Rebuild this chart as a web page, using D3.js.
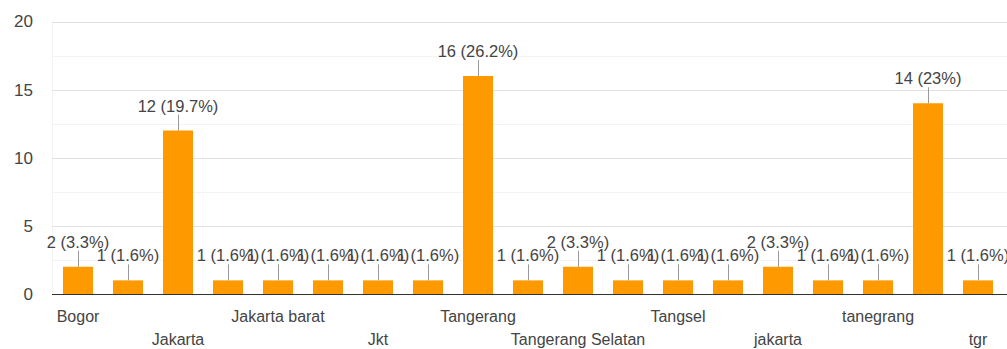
<!DOCTYPE html>
<html>
<head>
<meta charset="utf-8">
<script src="https://cdn.jsdelivr.net/npm/d3@7"></script>
<style>
  html, body { margin: 0; padding: 0; background: #fff; }
  svg { display: block; font-family: "Liberation Sans", Arial, sans-serif; }
</style>
</head>
<body>
<svg id="chart" width="1007" height="349"></svg>
<script>
// Responses per city; every other category name is shown on the axis
const categories = ["Bogor", "", "Jakarta", "", "Jakarta barat", "", "Jkt", "",
  "Tangerang", "", "Tangerang Selatan", "", "Tangsel", "", "jakarta", "",
  "tanegrang", "", "tgr"];
const counts = [2, 1, 12, 1, 1, 1, 1, 1, 16, 1, 2, 1, 1, 1, 2, 1, 1, 14, 1];
const yTicks = [0, 5, 10, 15, 20];

const total = d3.sum(counts);
const pct = v => {
  const p = Math.round(v / total * 1000) / 10;
  return `${v} (${p}%)`;
};

const svg = d3.select("#chart");
const idx = counts.map((_, i) => i);

const x = d3.scaleBand().domain(idx).range([53, 1003])
  .paddingInner(0.4).paddingOuter(0.2);
const y = d3.scaleLinear().domain([0, 20]).range([294, 21.5]);

// faint left edge of the plot area
svg.append("line")
  .attr("x1", 52.5).attr("x2", 52.5)
  .attr("y1", y(20)).attr("y2", y(0))
  .attr("stroke", "#f4f4f4");

// minor gridlines
svg.append("g").selectAll("line")
  .data(d3.range(2.5, 20, 5))
  .join("line")
  .attr("x1", 52).attr("x2", 1007)
  .attr("y1", d => Math.round(y(d)) + 0.5).attr("y2", d => Math.round(y(d)) + 0.5)
  .attr("stroke", "#f3f3f3");

// major gridlines
svg.append("g").selectAll("line")
  .data(yTicks.filter(d => d > 0))
  .join("line")
  .attr("x1", 52).attr("x2", 1007)
  .attr("y1", d => Math.round(y(d)) + 0.5).attr("y2", d => Math.round(y(d)) + 0.5)
  .attr("stroke", "#e2e2e2");

// y axis
const yAxis = d3.axisLeft(y).tickValues(yTicks).tickSize(0).tickPadding(0);
const gy = svg.append("g").attr("transform", "translate(33,0)").call(yAxis);
gy.select(".domain").remove();
gy.selectAll("text")
  .attr("fill", "#444")
  .style("font-size", "17px")
  .style("font-family", "'Liberation Sans', Arial, sans-serif");

// bars
svg.append("g").selectAll("rect")
  .data(idx)
  .join("rect")
  .attr("x", i => x(i))
  .attr("width", x.bandwidth())
  .attr("y", i => y(counts[i]))
  .attr("height", i => y(0) - y(counts[i]))
  .attr("fill", "#ff9900");

// baseline
svg.append("line")
  .attr("x1", 52).attr("x2", 1007)
  .attr("y1", Math.round(y(0)) + 0.5).attr("y2", Math.round(y(0)) + 0.5)
  .attr("stroke", "#333");

// annotation stems
svg.append("g").selectAll("line")
  .data(idx)
  .join("line")
  .attr("x1", i => Math.round(x(i) + x.bandwidth() / 2) + 0.5)
  .attr("x2", i => Math.round(x(i) + x.bandwidth() / 2) + 0.5)
  .attr("y1", i => y(counts[i]))
  .attr("y2", i => y(counts[i]) - 16)
  .attr("stroke", "#999");

// annotation labels
svg.append("g").selectAll("text")
  .data(idx)
  .join("text")
  .attr("x", i => x(i) + x.bandwidth() / 2)
  .attr("y", i => y(counts[i]) - 19)
  .attr("text-anchor", "middle")
  .attr("fill", "#444")
  .style("font-size", "16.5px")
  .text(i => pct(counts[i]));

// x axis category labels, staggered on two rows
const xAxis = d3.axisBottom(x).tickSize(0).tickPadding(0)
  .tickFormat(i => categories[i]);
const gx = svg.append("g").attr("transform", "translate(0,294)").call(xAxis);
gx.select(".domain").remove();
gx.selectAll("text")
  .attr("dy", null)
  .attr("y", i => (i / 2) % 2 === 0 ? 28 : 51)
  .attr("fill", "#444")
  .style("font-size", "16px")
  .style("font-family", "'Liberation Sans', Arial, sans-serif");
</script>
</body>
</html>
